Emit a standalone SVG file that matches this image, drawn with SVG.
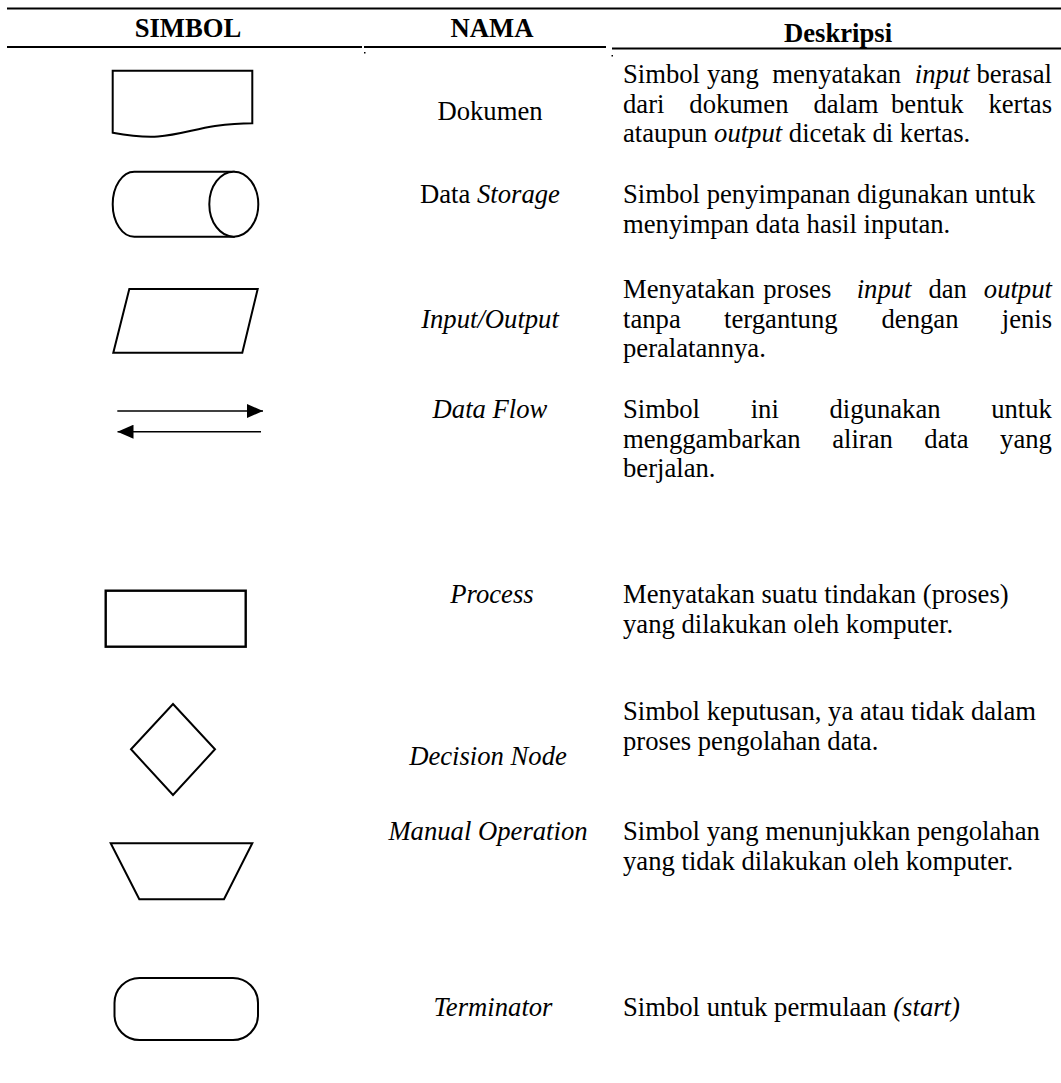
<svg xmlns="http://www.w3.org/2000/svg" width="1061" height="1083" viewBox="0 0 1061 1083">
<style>
text{font-family:"Liberation Serif","Times New Roman",serif;font-size:26.67px;fill:#000}
.h{font-weight:bold;text-anchor:middle}
.n{text-anchor:middle}
.i{font-style:italic}
.sh{fill:#fff;stroke:#000;stroke-width:2}
.rule{stroke:#000;stroke-width:2}
</style>
<defs>
<marker id="ah" markerWidth="16" markerHeight="14" refX="16" refY="7" orient="auto" markerUnits="userSpaceOnUse">
<path d="M0,0 L16,7 L0,14 Z" fill="#000"/>
</marker>
</defs>
<rect width="1061" height="1083" fill="#fff"/>
<g id="header">
<line class="rule" x1="7" y1="8.5" x2="1061" y2="8.5"/>
<text class="h" x="188" y="37">SIMBOL</text>
<text class="h" x="492" y="37">NAMA</text>
<text class="h" x="838" y="42">Deskripsi</text>
<line class="rule" x1="7" y1="47" x2="362" y2="47"/>
<line class="rule" x1="364" y1="47" x2="606" y2="47"/>
<line class="rule" x1="612" y1="48.5" x2="1061" y2="48.5"/>
<rect x="364" y="52" width="1.5" height="1.5" fill="#000"/>
<rect x="611.5" y="55" width="1.5" height="1.5" fill="#000"/>
</g>
<g id="row-dokumen">
<path class="sh" d="M112.7,70.7 H252.3 V123.3 C242,123.3 230,124 215,126 C195,129 178,135 158,136.5 C142,137.5 128,135.5 112.7,132.7 Z"/>
<text class="n" x="490" y="120">Dokumen</text>
<text x="623" y="83">Simbol</text><text x="706.9" y="83">yang</text><text x="772.3" y="83">menyatakan</text><text class="i" x="914.8" y="83">input</text><text x="976.4" y="83">berasal</text>
<text x="623" y="112.5">dari</text><text x="689.3" y="112.5">dokumen</text><text x="813.4" y="112.5">dalam</text><text x="891" y="112.5">bentuk</text><text x="988.4" y="112.5">kertas</text>
<text x="623" y="142">ataupun <tspan class="i">output</tspan> dicetak di kertas.</text>
</g>
<g id="row-storage">
<path class="sh" d="M134.3,171.7 H233.8 V236.7 H134.3 A21.6,32.5 0 0 1 134.3,171.7 Z"/>
<ellipse class="sh" cx="233.8" cy="204.2" rx="24.5" ry="32.5"/>
<text class="n" x="490" y="203">Data <tspan class="i">Storage</tspan></text>
<text x="623" y="203">Simbol penyimpanan digunakan untuk</text>
<text x="623" y="232.5">menyimpan data hasil inputan.</text>
</g>
<g id="row-io">
<polygon class="sh" points="129.3,289 257.7,289 242.3,352.7 113.3,352.7"/>
<text class="n i" x="490" y="327.5">Input/Output</text>
<text x="623" y="298">Menyatakan</text><text x="763.2" y="298">proses</text><text class="i" x="856.7" y="298">input</text><text x="928.4" y="298">dan</text><text class="i" x="983.8" y="298">output</text>
<text x="623" y="327.5">tanpa</text><text x="724.1" y="327.5">tergantung</text><text x="881.5" y="327.5">dengan</text><text x="1001.8" y="327.5">jenis</text>
<text x="623" y="357">peralatannya.</text>
</g>
<g id="row-dataflow">
<text class="n i" x="490" y="418">Data Flow</text>
<text x="623" y="418">Simbol</text><text x="750.7" y="418">ini</text><text x="829.5" y="418">digunakan</text><text x="991.2" y="418">untuk</text>
<text x="623" y="447.5">menggambarkan</text><text x="832.2" y="447.5">aliran</text><text x="924.3" y="447.5">data</text><text x="1000.1" y="447.5">yang</text>
<text x="623" y="477">berjalan.</text>
</g>
<g id="row-process">
<rect class="sh" x="105.7" y="590.7" width="140" height="56" style="stroke-width:2.4"/>
<text class="n i" x="492" y="603">Process</text>
<text x="623" y="603">Menyatakan suatu tindakan (proses)</text>
<text x="623" y="632.5">yang dilakukan oleh komputer.</text>
</g>
<g id="row-decision">
<polygon class="sh" points="173,704 215,749.3 173,795 131,749.3"/>
<text class="n i" x="488" y="765">Decision Node</text>
<text x="623" y="720">Simbol keputusan, ya atau tidak dalam</text>
<text x="623" y="749.5">proses pengolahan data.</text>
</g>
<g id="row-manual">
<polygon class="sh" points="110.7,843.3 252.3,843.3 224,899.3 139.3,899.3"/>
<text class="n i" x="488" y="840">Manual Operation</text>
<text x="623" y="840">Simbol yang menunjukkan pengolahan</text>
<text x="623" y="869.5">yang tidak dilakukan oleh komputer.</text>
</g>
<g id="row-terminator">
<rect class="sh" x="114.5" y="978" width="143.5" height="62" rx="25" ry="25"/>
<text class="n i" x="493" y="1016">Terminator</text>
<text x="623" y="1016">Simbol untuk permulaan <tspan class="i">(start)</tspan></text>
</g>
<g id="connectors">
<line x1="117.3" y1="411" x2="263" y2="411" stroke="#000" stroke-width="1.4" marker-end="url(#ah)"/>
<line x1="261" y1="431.7" x2="117.5" y2="431.7" stroke="#000" stroke-width="1.4" marker-end="url(#ah)"/>
</g>
</svg>
